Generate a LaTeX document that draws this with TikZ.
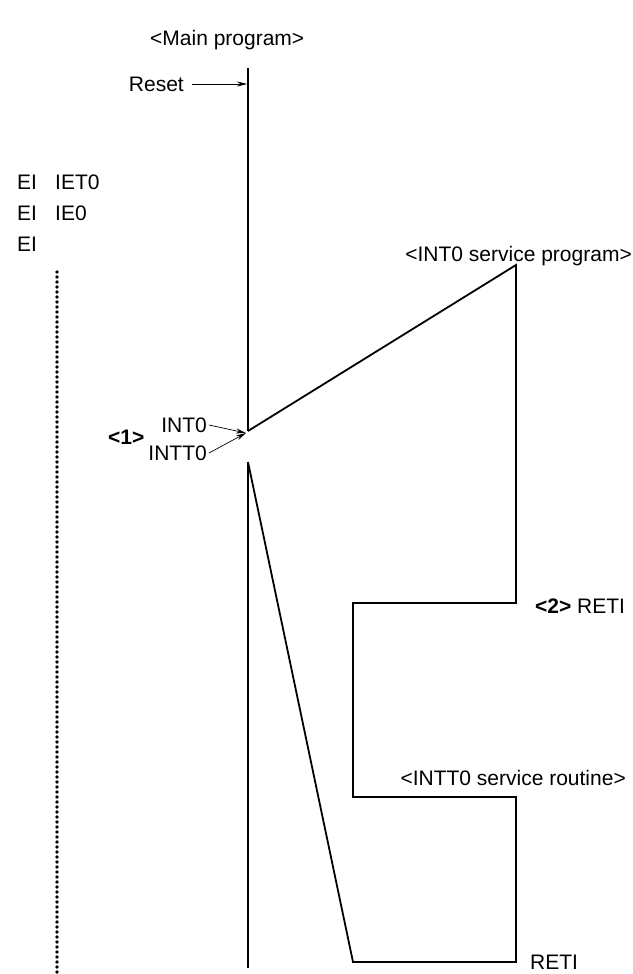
\documentclass[tikz,border=0pt]{standalone}
\usepackage{fontspec}
\setmainfont{Liberation Sans}
\usetikzlibrary{arrows.meta, positioning, calc}
\tikzset{
    lbl/.style={font=\fontsize{21}{24}\selectfont, inner sep=0pt, anchor=west},
    flow/.style={line width=1.8pt, draw=black},
    arrow/.style={-{Stealth[length=10pt,width=5pt]}, line width=0.7pt, draw=black},
    dotline/.style={line width=3.6pt, line cap=round, dash pattern=on 0pt off 5pt}
}
\begin{document}
\begin{tikzpicture}[x=1pt, y=-1pt]
    \useasboundingbox (0,0) rectangle (632,974);

    % headings
    \node[lbl] (mainhd) at (150,40) {<Main program>};
    \node[lbl, anchor=east] (int0hd) at (632,256) {<INT0 service program>};
    \node[lbl, anchor=east] (intt0hd) at (626,778) {<INTT0 service routine>};

    % left column
    \node[lbl] (ei1) at (17,182) {EI};
    \node[lbl] (iet0) at (55,182) {IET0};
    \node[lbl] (ei2) at (17,213) {EI};
    \node[lbl] (ie0) at (55,213) {IE0};
    \node[lbl] (ei3) at (17,244) {EI};
    \coordinate (dtop) at (57,272);
    \coordinate (dbot) at (57,972);
    \draw[dotline] (dtop) -- (dbot);

    % main program line
    \coordinate (mtop) at (248,68);
    \coordinate (mint) at (248,431);
    \coordinate (mres) at (248,462);
    \coordinate (mbot) at (248,968);
    \draw[flow] (mtop) -- (mint);
    \draw[flow] (mres) -- (mbot);

    % reset
    \node[lbl, anchor=east] (reset) at (184,84) {Reset};
    \coordinate (rst) at (247,84);
    \draw[arrow] ([xshift=8pt]reset.east) -- (rst);

    % interrupt requests
    \node[lbl, font=\fontsize{21}{24}\selectfont\bfseries] (one) at (108,437) {<1>};
    \node[lbl, anchor=east] (int0) at (207,425) {INT0};
    \node[lbl, anchor=east] (intt0) at (207,453) {INTT0};
    \coordinate (hit) at (246,433);
    \draw[arrow] ([xshift=2pt]int0.east) -- (hit);
    \draw[arrow] ([xshift=2pt]intt0.east) -- (hit);

    % INT0 service program
    \coordinate (a1) at (516,265);
    \coordinate (a2) at (516,603);
    \coordinate (b1) at (353,603);
    \coordinate (b2) at (353,797);
    \coordinate (b3) at (516,797);
    \coordinate (b4) at (516,962);
    \coordinate (b5) at (353,962);
    \draw[flow, line join=miter] (mint) -- (a1) -- (a2) -- (b1) -- (b2) -- (b3) -- (b4) -- (b5) -- (mres);

    \node[lbl] (two) at (535,606) {\textbf{<2>}\ RETI};
    \node[lbl] (reti) at (530,962) {RETI};
\end{tikzpicture}
\end{document}
